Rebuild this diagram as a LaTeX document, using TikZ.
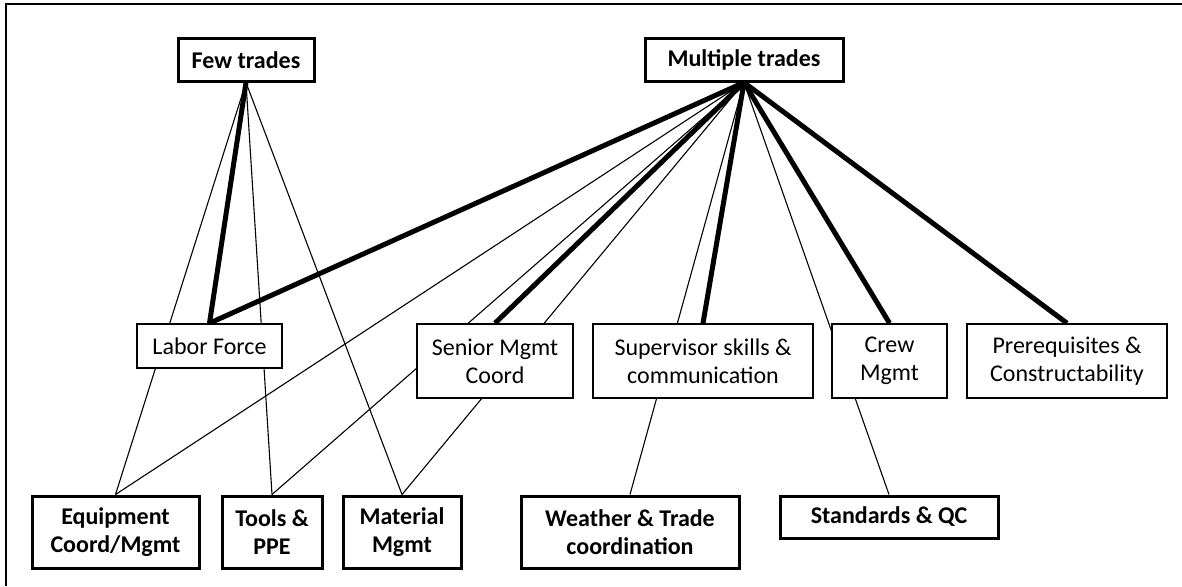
\documentclass[tikz,border=0pt]{standalone}
\usepackage{fontspec}
\setmainfont{Carlito}
\usetikzlibrary{backgrounds}

\tikzset{
  every node/.style={font=\fontsize{24}{28}\selectfont},
  box/.style={draw=black, fill=white, align=center, inner sep=0pt},
  mainbox/.style={box, line width=3pt, font=\fontsize{24}{28}\selectfont\bfseries},
  midbox/.style={box, line width=1.6pt},
  weak/.style={line width=1.1pt},
  strong/.style={line width=5pt},
  frame/.style={line width=2pt}
}

\begin{document}
\begin{tikzpicture}[x=1pt, y=-1pt]
\useasboundingbox (0,0) rectangle (1182,586);

% trade groups
\node[mainbox, minimum width=136pt, minimum height=42pt] (few) at (246,60) {Few trades};
\node[mainbox, minimum width=198pt, minimum height=42pt] (multi) at (744,60) {Multiple trades};

% middle row
\node[midbox, minimum width=145pt, minimum height=44pt] (labor) at (209.5,346) {Labor Force};
\node[midbox, minimum width=156pt, minimum height=74pt] (senior) at (495,361) {Senior Mgmt\\Coord};
\node[midbox, minimum width=220pt, minimum height=74pt] (super) at (703,361) {Supervisor skills \&\\communication};
\node[midbox, minimum width=115pt, minimum height=74pt] (crew) at (889.5,361) {Crew\\Mgmt};
\node[midbox, minimum width=200pt, minimum height=74pt] (prereq) at (1067,361) {Prerequisites \&\\Constructability};

% bottom row
\node[mainbox, minimum width=167pt, minimum height=72pt] (equip) at (115.5,532) {Equipment\\Coord/Mgmt};
\node[mainbox, minimum width=100pt, minimum height=72pt] (tools) at (272,532) {Tools \&\\PPE};
\node[mainbox, minimum width=118pt, minimum height=72pt] (material) at (402,532) {Material\\Mgmt};
\node[mainbox, minimum width=218pt, minimum height=72pt] (weather) at (630,532) {Weather \& Trade\\coordination};
\node[mainbox, minimum width=218pt, minimum height=42pt] (standards) at (889,517) {Standards \& QC};

\begin{scope}[on background layer]
  % page frame, open to the right and below
  \draw[frame] (1182,4.3) -- (6,4.3) -- (6,586);
  % links from few trades
  \draw[strong] (few.south) -- (labor.north);
  \draw[weak] (few.south) -- (equip.north);
  \draw[weak] (few.south) -- (tools.north);
  \draw[weak] (few.south) -- (material.north);
  % links from multiple trades
  \draw[strong] (multi.south) -- (labor.north);
  \draw[weak] (multi.south) -- (equip.north);
  \draw[weak] (multi.south) -- (tools.north);
  \draw[weak] (multi.south) -- (material.north);
  \draw[strong] (multi.south) -- (senior.north);
  \draw[weak] (multi.south) -- (weather.north);
  \draw[strong] (multi.south) -- (super.north);
  \draw[weak] (multi.south) -- (standards.north);
  \draw[strong] (multi.south) -- (crew.north);
  \draw[strong] (multi.south) -- (prereq.north);
\end{scope}
\end{tikzpicture}
\end{document}
